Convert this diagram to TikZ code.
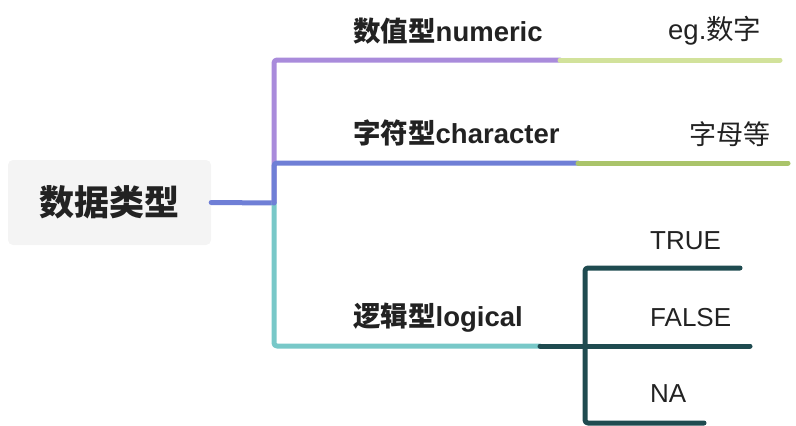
\documentclass[tikz,border=0pt]{standalone}
\usepackage{fontspec}
\setmainfont{Liberation Sans}
\newfontfamily\cjk{Noto Sans CJK SC}
\definecolor{ink}{HTML}{222222}
\definecolor{rootfill}{HTML}{F4F4F4}
\definecolor{cpurple}{HTML}{A98BDB}
\definecolor{cblue}{HTML}{6F7FD6}
\definecolor{cteal}{HTML}{78C8C8}
\definecolor{clgreen}{HTML}{D2E29B}
\definecolor{cgreen}{HTML}{AAC46A}
\definecolor{cdark}{HTML}{1F4B50}
\begin{document}
\begin{tikzpicture}[x=1pt,y=-1pt,
  branch/.style={line width=5pt, line cap=round, line join=round, rounded corners=3pt},
  lbl/.style={anchor=base west, inner sep=0pt, text=ink, font=\fontsize{26}{30}\selectfont},
  blbl/.style={lbl, font=\fontsize{27.5}{31}\selectfont\bfseries},
  rootbox/.style={fill=rootfill, rounded corners=5pt, minimum width=203pt, minimum height=85pt, inner sep=0pt, text=ink, font=\fontsize{35}{40}\selectfont\cjk\bfseries}
]
\useasboundingbox (0,0) rectangle (796,426);
% root
\node[rootbox] (root) at (109.5,202.5) {数据类型};
% junction coordinates
\coordinate (j) at (274,203);
\coordinate (n1) at (274,60);  \coordinate (n2) at (560,60);  \coordinate (n3) at (780,60);
\coordinate (c1) at (274,163); \coordinate (c2) at (578,163); \coordinate (c3) at (788,163);
\coordinate (l1) at (274,346); \coordinate (l2) at (540,346); \coordinate (l3) at (585,346);
\coordinate (t1) at (585,268); \coordinate (t2) at (740,268);
\coordinate (f2) at (750,346);
\coordinate (a1) at (585,423); \coordinate (a2) at (704,423);
% connectors
\draw[branch, cblue, rounded corners=0pt] (root.east) -- (j);
\draw[branch, cpurple] (j) -- (n1) -- (n2);
\draw[branch, clgreen] (n2) -- (n3);
\draw[branch, cteal] (j) -- (l1) -- (l2);
\draw[branch, cblue] (j) -- (c1) -- (c2);
\draw[branch, cgreen] (c2) -- (c3);
\draw[branch, cdark] (l2) -- (l3);
\draw[branch, cdark] (l3) -- (t1) -- (t2);
\draw[branch, cdark] (l3) -- (a1) -- (a2);
\draw[branch, cdark] (l3) -- (f2);
% labels
\node[blbl] (num) at (353,41) {{\cjk 数值型}numeric};
\node[lbl, font=\fontsize{27.5}{31}\selectfont] (numeg) at (668,39) {eg.{\cjk 数字}};
\node[blbl] (chr) at (353,143) {{\cjk 字符型}character};
\node[lbl, font=\fontsize{27}{31}\selectfont] (chreg) at (689,144) {\cjk 字母等};
\node[blbl] (lgc) at (353,326) {{\cjk 逻辑型}logical};
\node[lbl] (tru) at (650,249) {TRUE};
\node[lbl] (fls) at (650,326) {FALSE};
\node[lbl] (na) at (650,402) {NA};
\end{tikzpicture}
\end{document}
